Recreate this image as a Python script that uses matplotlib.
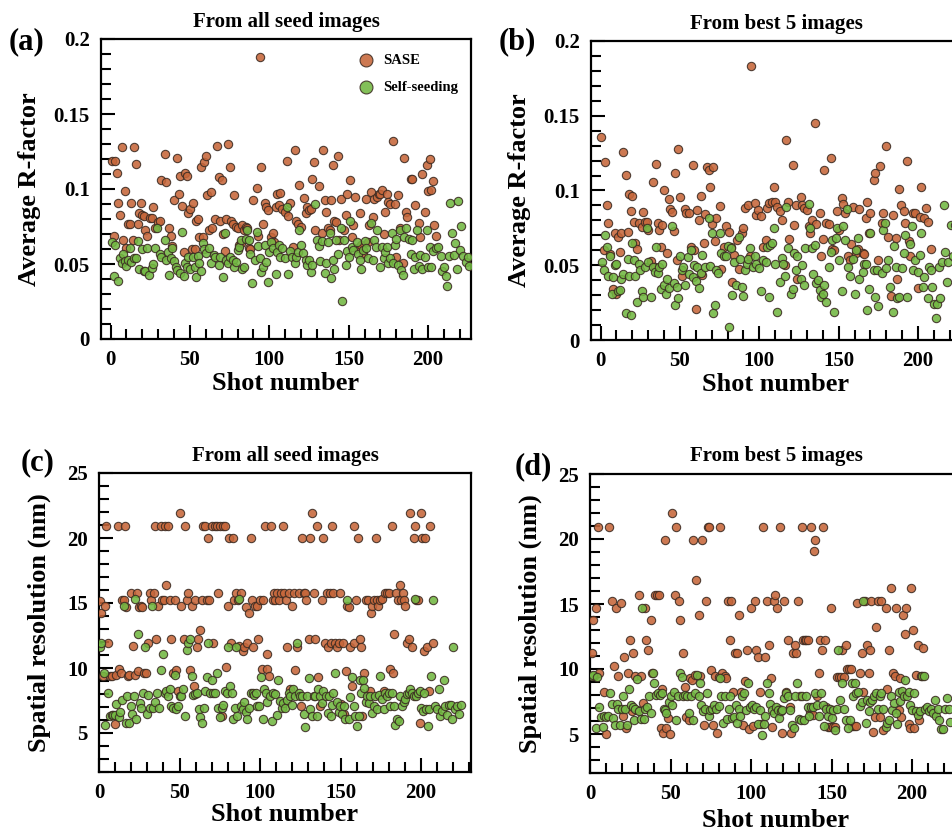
import matplotlib
matplotlib.use("Agg")
import matplotlib.pyplot as plt
from matplotlib.ticker import MultipleLocator, FuncFormatter

plt.rcParams['font.family'] = ['Liberation Serif', 'DejaVu Serif']
plt.rcParams['font.weight'] = 'bold'

# ---- data: (shot number, value) ----
sase_a = [(1,.119),(2,.069),(3,.119),(4,.111),(5,.0905),(6,.083),(7,.128),(8,.066),(9,.099),(10,.061),(11,.077),(12,.077),(13,.0905),(14,.066),(15,.128),(16,.117),(17,.077),(18,.084),(19,.0905),(20,.083),(21,.082),(22,.073),(23,.069),(25,.081),(26,.081),(27,.088),(28,.074),(30,.078),(31,.0785),(32,.106),(34,.1235),(35,.105),(37,.074),(38,.069),(39,.062),(40,.093),(42,.121),(43,.097),(44,.109),(45,.089),(46,.058),(47,.111),(48,.109),(49,.084),(50,.087),(51,.060),(52,.091),(53,.060),(54,.079),(55,.080),(56,.068),(57,.115),(58,.068),(59,.118),(60,.122),(61,.096),(62,.073),(63,.098),(64,.074),(66,.080),(67,.129),(68,.108),(69,.0785),(70,.106),(71,.070),(72,.059),(73,.080),(74,.130),(75,.115),(76,.079),(77,.077),(78,.096),(79,.075),(80,.074),(81,.063),(82,.064),(83,.076),(84,.073),(85,.075),(86,.074),(87,.061),(88,.060),(90,.093),(92,.1005),(93,.0685),(94,.188),(95,.115),(96,.077),(97,.0905),(98,.088),(99,.086),(101,.068),(102,.071),(103,.065),(104,.088),(105,.0965),(106,.0895),(107,.0975),(108,.087),(110,.085),(111,.119),(112,.082),(113,.091),(115,.0615),(116,.126),(117,.079),(118,.077),(119,.103),(120,.075),(122,.094),(123,.084),(124,.088),(125,.086),(126,.087),(127,.107),(128,.118),(129,.073),(131,.102),(133,.071),(134,.126),(135,.093),(136,.0845),(137,.074),(138,.073),(139,.0925),(140,.116),(141,.079),(142,.078),(143,.122),(144,.066),(145,.0935),(147,.073),(148,.083),(149,.0965),(151,.106),(152,.068),(153,.076),(154,.095),(156,.0605),(157,.084),(158,.063),(159,.057),(161,.0935),(162,.065),(163,.076),(164,.098),(165,.0815),(166,.0935),(168,.095),(169,.097),(170,.097),(171,.0995),(172,.070),(173,.085),(174,.097),(175,.0915),(176,.090),(178,.132),(179,.090),(180,.055),(181,.096),(182,.074),(184,.0505),(185,.121),(186,.0845),(187,.0815),(189,.107),(190,.1065),(192,.0895),(194,.0775),(195,.068),(196,.110),(198,.085),(199,.116),(200,.099),(201,.120),(202,.0995),(203,.1055),(204,.076),(205,.069)]

seed_a = [(1,.065),(2,.042),(3,.063),(5,.039),(6,.054),(7,.051),(8,.057),(9,.052),(10,.049),(11,.053),(12,.061),(13,.0515),(15,.054),(16,.054),(17,.0655),(18,.047),(20,.060),(21,.0455),(22,.0455),(23,.0605),(24,.043),(26,.0475),(27,.050),(28,.0605),(29,.074),(31,.057),(32,.055),(34,.066),(35,.053),(36,.058),(37,.0425),(38,.054),(39,.0605),(40,.052),(41,.048),(42,.046),(44,.044),(45,.0715),(46,.042),(47,.0505),(48,.048),(49,.055),(50,.047),(52,.0545),(53,.048),(54,.0415),(55,.0555),(56,.0505),(57,.0455),(58,.064),(59,.060),(60,.0575),(62,.061),(63,.0505),(65,.056),(66,.0545),(68,.0495),(69,.0545),(71,.0415),(72,.0705),(73,.053),(74,.0505),(75,.055),(77,.053),(78,.048),(79,.0515),(80,.0595),(81,.0615),(82,.066),(83,.0465),(84,.048),(85,.0665),(86,.0725),(87,.066),(88,.0565),(89,.0375),(91,.053),(92,.0715),(93,.062),(94,.054),(95,.0445),(96,.048),(97,.063),(98,.0515),(99,.038),(100,.058),(101,.065),(102,.0605),(104,.0435),(105,.058),(106,.063),(107,.055),(108,.0605),(110,.054),(111,.088),(112,.0435),(113,.0585),(114,.055),(116,.0505),(117,.0545),(118,.058),(119,.073),(120,.063),(121,.0575),(123,.053),(124,.0495),(125,.053),(126,.045),(127,.0495),(129,.090),(130,.066),(131,.062),(132,.052),(133,.0655),(135,.044),(136,.0505),(137,.065),(138,.0705),(139,.0405),(140,.053),(141,.047),(142,.066),(143,.057),(145,.074),(146,.0255),(147,.066),(148,.0495),(149,.059),(150,.055),(151,.0785),(152,.0615),(153,.0595),(155,.065),(156,.057),(157,.053),(158,.047),(159,.0595),(160,.0655),(161,.0605),(162,.054),(164,.0775),(165,.053),(166,.066),(167,.0615),(168,.073),(170,.048),(171,.0615),(172,.054),(173,.058),(174,.0615),(175,.0505),(176,.054),(177,.0705),(178,.0505),(179,.063),(180,.0665),(181,.0495),(182,.073),(183,.046),(184,.0425),(185,.068),(186,.074),(188,.0665),(189,.057),(190,.066),(191,.0465),(192,.055),(193,.073),(194,.049),(195,.056),(196,.047),(198,.055),(199,.073),(200,.048),(201,.0615),(202,.048),(203,.059),(205,.0605),(206,.0615),(208,.0555),(209,.0455),(210,.048),(211,.042),(212,.0355),(213,.0555),(214,.0905),(215,.0705),(216,.056),(217,.064),(218,.047),(219,.092),(220,.0595),(221,.0755),(222,.0555),(224,.0515),(225,.055),(226,.049)]

sase_b = [(0,.136),(2,.060),(3,.119),(4,.090),(5,.0785),(6,.0575),(8,.034),(9,.0715),(10,.031),(11,.069),(12,.059),(13,.0715),(14,.126),(16,.1105),(17,.0725),(18,.0975),(19,.086),(20,.0965),(21,.079),(22,.065),(23,.061),(24,.0785),(26,.0755),(27,.0855),(28,.079),(29,.079),(30,.0735),(32,.053),(33,.106),(34,.049),(35,.118),(36,.0785),(37,.0735),(38,.0625),(39,.077),(40,.1005),(42,.058),(43,.094),(44,.0875),(45,.0855),(46,.073),(47,.1115),(48,.0535),(49,.1275),(50,.0955),(51,.043),(53,.0875),(54,.085),(56,.085),(57,.0625),(58,.117),(59,.060),(60,.021),(61,.087),(62,.080),(63,.096),(64,.0435),(65,.065),(66,.084),(67,.116),(68,.114),(69,.1025),(70,.0775),(71,.116),(72,.0665),(73,.0815),(75,.0895),(76,.0475),(78,.0625),(79,.076),(81,.0725),(82,.062),(83,.039),(84,.057),(86,.067),(87,.0475),(89,.0715),(90,.075),(91,.088),(93,.090),(94,.0565),(95,.183),(97,.0915),(98,.0835),(99,.087),(101,.083),(102,.062),(104,.067),(105,.088),(106,.0915),(108,.092),(109,.1025),(110,.092),(111,.089),(113,.086),(114,.080),(116,.050),(117,.134),(118,.092),(119,.0675),(121,.117),(122,.077),(123,.090),(124,.041),(126,.0955),(127,.090),(128,.088),(130,.087),(131,.076),(132,.0715),(133,.080),(135,.145),(136,.0775),(138,.085),(139,.056),(140,.0675),(141,.114),(142,.0785),(144,.0775),(145,.122),(146,.061),(147,.060),(149,.0865),(150,.0735),(152,.095),(153,.091),(154,.085),(156,.056),(157,.0535),(158,.0645),(159,.089),(161,.0585),(162,.061),(163,.0875),(165,.0585),(166,.0575),(167,.0815),(168,.0925),(169,.0715),(170,.085),(172,.107),(173,.1115),(175,.0535),(176,.1165),(177,.078),(178,.085),(180,.130),(181,.069),(183,.0295),(184,.0835),(186,.068),(187,.041),(188,.101),(189,.0905),(191,.0865),(192,.078),(193,.1195),(194,.066),(195,.056),(197,.085),(198,.085),(200,.035),(201,.0825),(202,.1025),(204,.0815),(205,.0885),(206,.079),(208,.061)]

seed_b = [(1,.0525),(2,.047),(3,.070),(4,.062),(5,.043),(6,.056),(7,.0305),(8,.042),(9,.050),(10,.051),(11,.0325),(12,.0335),(13,.0405),(14,.044),(16,.018),(17,.054),(18,.043),(19,.017),(20,.065),(21,.0535),(22,.043),(23,.0255),(24,.051),(25,.047),(26,.0325),(27,.029),(28,.049),(29,.075),(30,.0525),(32,.029),(33,.049),(34,.0455),(35,.062),(36,.045),(37,.049),(38,.034),(39,.051),(40,.037),(41,.031),(42,.041),(43,.035),(45,.076),(46,.038),(47,.0235),(48,.0355),(49,.028),(50,.056),(51,.047),(52,.049),(53,.037),(55,.0555),(56,.044),(57,.0605),(58,.042),(59,.050),(60,.0395),(61,.049),(62,.0345),(63,.045),(64,.057),(66,.049),(68,.0815),(69,.0495),(70,.0715),(71,.018),(72,.0235),(73,.047),(74,.045),(75,.0715),(76,.0585),(78,.056),(79,.056),(80,.063),(81,.009),(82,.0615),(83,.030),(84,.0525),(85,.037),(87,.069),(88,.0545),(89,.0355),(90,.0295),(91,.047),(92,.051),(93,.0545),(94,.0615),(96,.049),(97,.056),(98,.051),(100,.048),(101,.0325),(102,.0535),(104,.0525),(105,.0625),(106,.029),(107,.0635),(108,.065),(109,.075),(110,.051),(111,.019),(113,.039),(114,.055),(115,.051),(116,.0425),(117,.089),(118,.0615),(120,.031),(121,.034),(122,.0585),(123,.047),(124,.056),(126,.041),(127,.050),(128,.037),(129,.0615),(131,.091),(132,.075),(133,.0615),(134,.044),(135,.0635),(136,.038),(137,.040),(138,.0335),(139,.029),(140,.031),(141,.037),(142,.0255),(144,.049),(145,.059),(146,.067),(147,.019),(148,.068),(149,.075),(150,.0535),(152,.0325),(153,.076),(154,.067),(155,.0875),(156,.049),(157,.0425),(159,.054),(160,.031),(161,.060),(162,.0685),(163,.041),(165,.0455),(166,.051),(167,.051),(168,.020),(169,.034),(170,.0715),(172,.047),(173,.029),(174,.047),(175,.0225),(177,.0445),(178,.0735),(179,.0785),(180,.048),(181,.0535),(182,.0355),(184,.0185),(185,.063),(186,.049),(187,.028),(188,.029),(190,.048),(191,.058),(192,.070),(193,.029),(195,.0645),(196,.076),(197,.0465),(198,.0535),(200,.0455),(201,.057),(202,.0715),(203,.0355),(204,.042),(206,.028),(207,.049),(208,.047),(209,.0355),(210,.024),(211,.015),(212,.024),(213,.049),(214,.028),(215,.0525),(216,.090),(217,.059),(218,.039),(219,.0525),(221,.077),(222,.056),(223,.077),(224,.0535),(225,.0685)]

sase_c = [(0.4,15.15),(1.5,14.25),(2.5,9.35),(3.7,14.75),(4.6,20.96),(5.6,11.9),(6.6,9.35),(8.3,9.35),(9.8,5.7),(10.8,9.5),(11.8,20.96),(12.4,9.95),(13.5,9.65),(14.5,15.2),(15.4,15.2),(15.9,20.96),(17,14.7),(17.8,9.35),(18.7,9.45),(20.1,15.75),(21.2,11.7),(22.2,9.5),(23.3,15.75),(24.3,9.8),(24.9,14.7),(26.2,14.75),(27,14.7),(27.9,9.6),(29.1,9.6),(30.3,11.95),(31.5,15.75),(32.6,15.25),(34,15.75),(34.9,20.96),(35.7,12.2),(36.9,14.75),(38.2,20.96),(39,15.25),(40.2,15.25),(41.1,20.96),(41.9,16.35),(42.8,20.96),(44,15.25),(44.8,12.2),(46.1,9.65),(47.1,15.25),(48.1,9.85),(49.2,8.25),(50.2,21.95),(51.2,14.75),(52.7,12.25),(53.7,20.96),(54.4,15.25),(55.4,15.75),(56.4,9.85),(57.5,14.75),(59,8.6),(59.5,15.25),(60.6,11.6),(61.6,12.2),(62.7,12.9),(63.7,15.25),(64.7,20.96),(65.8,20.96),(66.8,15.25),(67.8,20),(68.5,15.25),(70,20.96),(71,11.95),(72,20.96),(73,20.96),(74.1,15.75),(75.1,20.96),(76.1,6.3),(77.2,20.96),(78.2,20.96),(78.8,10.05),(79.9,14.75),(80.9,20),(82,11.95),(83,20),(83.8,15.25),(85.1,15.75),(86.3,15.25),(87.1,11.7),(88,15.75),(89.2,11.3),(90.2,11.6),(91.3,14.7),(92.1,11.95),(93,14.2),(94.2,20),(94.8,15.25),(95.9,11.6),(96.9,14.75),(97.9,14.75),(98.9,12.25),(100,15.25),(101,9.9),(102,15.25),(103.1,20.96),(104.1,11.05),(104.6,9.9),(105.8,9.4),(106.8,20.96),(107.9,15.25),(108.7,15.75),(109.5,15.25),(110.4,15.75),(111.6,15.25),(112.9,15.75),(114.1,20.96),(115.1,15.75),(116.2,15.25),(117,11.6),(117.8,15.75),(118.6,8.35),(119.7,14.75),(121.2,15.75),(122,9.85),(123.2,11.6),(124.2,15.75),(125.3,7.05),(126.1,20),(127,15.75),(128,15.75),(128.6,15.25),(130.3,12.25),(131.1,20),(132.2,21.95),(133.2,15.75),(134.4,12.25),(135.3,20.96),(136.3,9.3),(137.3,7.1),(138.4,15.25),(139.4,20),(140.5,11.95),(141.5,15.75),(142.5,11.6),(143.2,15.75),(144,11.95),(144.8,20.96),(145.6,15.75),(146.5,11.95),(147.7,11.6),(148.8,11.95),(149.8,15.75),(150.2,7.2),(151.5,11.95),(152.3,6.45),(153.1,9.8),(153.9,14.75),(155,14.7),(156,11.6),(157,8.6),(158.1,20.96),(158.5,11.95),(159.8,15.25),(160.8,20),(161.8,12.2),(162.7,11.6),(163.5,6.3),(164.7,9.65),(166,15.25),(167.2,15.25),(168,8.25),(168.9,14.2),(169.7,14.75),(170.5,15.25),(171.8,20),(172.6,15.25),(173.4,14.75),(174.7,15.25),(175.7,15.3),(176.8,8.25),(177.8,15.75),(178.8,15.75),(179.9,15.75),(180.9,9.95),(181.9,20.96),(182.6,9.65),(183.4,12.65),(184.6,15.75),(185.5,15.25),(186.7,16.35),(187.6,15.25),(188.8,15.75),(189.6,15.25),(190.2,14.75),(191.3,11.95),(192.3,12.25),(193.4,21.95),(194.4,11.6),(195.4,20),(196.3,20.96),(197.1,15.25),(198.3,15.25),(199.2,5.8),(200,21.95),(200.8,20),(201.7,11.3),(202.7,20),(203.7,11.6),(204.8,8.25),(205.8,20.96),(207.1,11.95)]

seed_c = [(0.8,11.6),(1.5,11.95),(2.9,9.65),(3.7,5.6),(5.6,8.05),(6.6,6.3),(7.9,6.35),(8.7,6.35),(9.8,6.35),(10.8,7.2),(12.2,6.2),(13.3,6.65),(14.3,7.55),(15.4,14.75),(16.6,5.8),(17.4,7.85),(18.7,5.8),(19.7,7.05),(20.5,6.45),(21.6,7.85),(22.6,15.3),(23.2,6.1),(24.3,12.65),(25.3,7.3),(26.2,6.95),(27.4,8.05),(28.4,11.6),(29.5,6.45),(30.5,7.9),(31.5,6.95),(32.8,14.75),(33.6,6.95),(34.9,7.35),(36.1,8.1),(37.3,6.95),(38.6,9.85),(39.8,11.1),(40.9,8.1),(41.9,8.25),(43,7.85),(44,8.4),(45,7.05),(46.1,6.95),(47.1,9.5),(48.1,6.85),(49.2,7.05),(50.2,7.85),(51.2,7.85),(52.3,8.4),(53.3,6.3),(54.4,11.35),(55.4,11.95),(56.4,12.2),(57.7,9.4),(58.5,7.9),(59.8,8),(61,8.1),(61.8,6.85),(62.7,6.2),(63.9,5.8),(65.1,6.9),(66,8.25),(66.8,9.3),(67.8,11.95),(68.9,8.1),(69.9,9.1),(71,8.1),(72,8.1),(73,9.65),(74.1,6.95),(75.1,6.2),(76.1,6.95),(77.2,7.15),(78.2,8.25),(79.3,8.05),(80.3,11.6),(81.3,8.6),(82.4,8.1),(83.4,6.1),(84.4,6.95),(85.1,11.6),(85.9,6.3),(87.1,15.3),(88,7.1),(89.2,6.85),(90,7.35),(91.3,6.65),(92.1,6.1),(93.4,6.95),(94.2,8.1),(95.4,8.1),(96.3,7.9),(97.5,8.1),(98.3,7.1),(99.6,7.1),(100.4,9.3),(101.7,6.1),(102.5,8.4),(103.7,8.1),(104.6,7.35),(106.2,7.85),(107.3,5.95),(108.3,8.1),(109.5,8),(110.4,6.35),(111.4,9.1),(112.4,7.5),(113.5,6.95),(114.5,7.3),(115.6,6.95),(116.6,7.55),(117.8,8.1),(118.6,7.85),(119.7,7.15),(120.7,8.35),(121.8,7.85),(122.8,11.95),(123.9,8.1),(125,7.85),(126,7.85),(127,6.45),(128,5.45),(129.2,7.85),(130.2,9.2),(131.1,6.85),(132.2,6.3),(133.2,7.85),(134.4,7.85),(135.3,6.3),(136.3,8.35),(137.3,7.85),(138.4,7.3),(139.4,8.25),(140.7,7.85),(141.9,6.55),(142.7,7.85),(144,6.3),(144.8,7.15),(145.6,8.1),(146.7,9.65),(147.7,7.35),(148.8,6.65),(149.8,7.1),(150.8,6.45),(151.9,7.05),(152.9,6.1),(153.9,15.25),(155,6.05),(156,7.8),(157,9.3),(158.1,7.1),(159.1,6.3),(160.2,5.55),(161.2,6.3),(161.8,9.1),(162.7,8.1),(163.9,9.1),(164.7,8.5),(165.6,7.35),(166.4,7.85),(167.4,7.3),(168.5,7.85),(169.5,6.55),(170.5,7.05),(171.6,7.85),(172.6,6.85),(173.7,7.9),(174.7,9.4),(175.7,7.6),(176.8,6.85),(177.8,8.1),(178.8,7.85),(179.9,8.1),(180.9,7.05),(181.9,8.1),(183,7.1),(184,5.6),(185,6.05),(186.1,5.95),(187.1,7.85),(188.2,7.1),(189.2,7.35),(190.2,7.6),(191.3,8),(192.3,8.1),(193.4,8.4),(194.4,8.1),(195.4,7.85),(196.5,15.3),(197.1,7.85),(197.9,8.05),(199.2,8.25),(200,6.95),(201.2,6.7),(202.1,8.1),(203.3,6.85),(204.1,5.55),(205.2,6.85),(206.2,9.4),(207.5,15.25),(208.7,7.1),(209.9,6.85),(211,8.35),(212,6.3),(213.1,6.7),(214.1,9.1),(215.1,7.1),(216.2,6.35),(217.2,7.15),(218.3,7.15),(219.3,6.1),(219.9,11.6),(221.2,6.85),(222.4,7.1),(223.7,6.45),(224.5,7.15)]

sase_d = [(1,11.25),(1.7,13.8),(2.5,9.45),(3.7,14.7),(5,20.9),(5.8,9.7),(8.7,8.25),(9.9,5),(12,20.9),(13.4,15.25),(14.9,10.25),(16.1,14.7),(17.6,9.45),(19,15.1),(20.2,6.4),(21.1,10.95),(22.3,5.5),(23.6,9.7),(24.8,12.2),(25.8,6.8),(26.9,11.25),(28.1,9.45),(29.3,6.85),(30.6,15.7),(31.8,9.45),(33.1,7.35),(33.9,14.7),(34.7,12.2),(36.2,11.5),(37.6,13.75),(38.8,9.7),(40.1,15.7),(41.3,15.7),(43,15.7),(44.4,8.45),(44,5.45),(45.5,5.05),(46.7,19.95),(47.5,5.5),(48.6,6.2),(49.6,5),(50.8,22),(52.5,15.7),(53.7,20.9),(55,15.25),(55.8,13.75),(57.9,11.2),(59.1,8.65),(59.9,6.3),(61.2,6.1),(62,9.3),(63.3,9.15),(64,19.95),(65.3,9.55),(66.1,16.85),(67.4,14.15),(68.6,9.45),(69.8,19.95),(71.1,5.7),(72.3,15.25),(73.1,20.9),(74,20.9),(75.2,9.95),(76.4,5.7),(77.5,9.45),(78.9,5.05),(80.2,9.4),(81,20.9),(82.2,9.7),(83.7,9.45),(84.7,9.3),(85.7,15.25),(86.8,12.2),(87.8,15.25),(88.8,8.25),(89.9,11.25),(91.3,11.25),(92.6,14.15),(93.8,8.25),(95,5.7),(96.3,9.1),(97.5,11.5),(98.8,5.35),(100.2,14.7),(101.2,5.6),(102.3,15.25),(103.3,11.5),(104.4,10.95),(105.4,8.25),(106.4,5.8),(107.4,20.9),(108.7,10.95),(109.9,15.25),(111.2,11.85),(112.2,9.3),(112.9,5.55),(114.2,15.25),(115,15.7),(116.1,14.7),(117.4,6.9),(118.2,20.9),(119.4,5.05),(120.7,15.25),(121.9,8.25),(123.2,12.2),(124,7.1),(125,5.05),(126.1,11.25),(127.4,11.85),(128.1,11.25),(129.2,15.25),(130.2,7.9),(131.4,20.9),(132.2,12.2),(133.3,12.2),(134.3,12.2),(135.5,12.2),(136.4,6.75),(137.4,20.9),(138.4,6.45),(139.5,19.95),(139,19.1),(140.9,7.9),(142.1,9.7),(142.6,12.2),(143.8,11.5),(144.6,20.9),(145.9,12.2),(146.7,7.1),(147.9,5.55),(148.8,5.55),(149.8,14.7),(150.8,5.55),(151.9,5.55),(153.3,9.35),(154.5,9.35),(155.8,9.35),(156.6,11.5),(157.9,9.35),(158.7,11.85),(159.5,10),(160.7,10),(162,10),(162.8,5.6),(164,5.6),(165.3,5.6),(166.1,15.1),(167.4,9.7),(168.6,11.25),(169.8,8.25),(170.7,15.25),(171.9,11.85),(173.1,9.7),(174,11.5),(174.8,15.25),(176,5.15),(176.9,6.3),(177.7,13.25),(178.9,15.25),(179.8,6.3),(181,15.25),(182.2,5.3),(183.5,14.7),(184.3,8.5),(185.5,11.5),(186.8,16.25),(188,9.7),(189.3,9.45),(190.1,14.7),(191.7,6.85),(192.6,9.3),(193.4,6.3),(194.2,14.15),(195.5,12.7),(196.3,14.7),(198,5.8),(198.8,5.45),(199.6,16.25),(200.8,13),(201.4,5.45),(202.5,9.55),(203.5,11.85),(204.5,6.1),(205.6,9.45),(206.6,11.6)]

seed_d = [(1,9.45),(2.1,9.55),(3.7,5.5),(4.5,9.35),(5.8,7.1),(6.6,6.3),(7.9,5.55),(8.7,6.35),(9.9,6.3),(11.4,6.4),(12.4,8.15),(13.4,7.3),(14.5,6.2),(15.5,5.7),(16.5,7.3),(17.6,6.9),(18.6,5.7),(19.6,6.9),(20.7,7.9),(21.9,6.9),(23.1,5.7),(24.4,8.45),(25.2,7.25),(26.4,7.1),(27.3,6.1),(28.1,6.95),(29.3,9.2),(30.6,6.75),(31.4,6.15),(32.6,14.7),(33.5,6.15),(34.3,6.95),(35.5,7.1),(36.8,7.9),(38,6.65),(39.3,9.7),(39.7,8.9),(40.9,8),(42.1,8.15),(43.4,8),(44.6,8.15),(45.9,6.95),(46.7,6.85),(47.5,6.6),(48.8,7.5),(50,7.9),(51.2,7.25),(52.1,8.25),(53.3,6.1),(54.5,7.9),(55.8,9.7),(57,9.4),(57.9,7.9),(59.1,8),(60.3,7.9),(61.6,6.65),(62.8,7.9),(64,6.1),(65.3,8.15),(66.5,9.55),(67.4,7.9),(68.2,8.95),(69.2,7.25),(70.2,6.75),(71.5,6.95),(72.7,8.15),(73.6,6.35),(74.8,6.85),(76,6.95),(77.3,7.25),(78.5,6.95),(79.8,7.15),(80.6,9.3),(81.6,7.9),(82.6,5.85),(83.7,7.9),(85.1,6.15),(86.4,6.9),(87.2,7.9),(88.4,6.2),(89.3,6.3),(90.5,7.25),(91.3,5.85),(92.6,6.9),(93.4,6.35),(94.6,7.95),(95.9,8.15),(97.1,6.85),(98.3,8.9),(99.6,7.1),(100.8,7.25),(102.1,6.9),(102.9,7.05),(104.3,5.8),(105.4,6.85),(106.6,4.95),(107.9,5.8),(108.7,6.35),(109.9,8.9),(111.2,8.15),(112,7.3),(113.2,6.85),(114.3,6.65),(115.3,7.1),(116.5,6.85),(117.4,6.2),(118.6,6.75),(119.4,6.85),(120.7,7.8),(121.9,8.15),(123.2,7.9),(124,6.85),(125.2,5.7),(126.4,5.5),(127.3,7.9),(128.5,8.95),(129.8,6.15),(131,6.1),(131.8,7.95),(133.1,6.1),(133.9,7.9),(135.1,7.1),(136,6.35),(137.2,7.1),(138.4,7.1),(139.7,8.15),(140.9,7.25),(142.1,6.35),(143.4,8.15),(144.6,7.25),(145.5,5.6),(146.3,6.9),(147.5,6.4),(148.8,6.95),(150,6.2),(150.8,6.85),(152.1,5.3),(153.3,6.9),(154.1,11.5),(155.4,7.65),(156.6,8.95),(157.9,6.9),(159.1,6.1),(159.9,5.45),(161.2,6.1),(162.4,8.95),(163.2,7.9),(164.5,8.95),(165.3,8.15),(166.5,8.25),(167.8,7.15),(169,7.5),(169.8,15.25),(171.1,5.85),(171.9,7.65),(173.1,6.75),(174,7.5),(175.2,7.6),(176.4,7.9),(177.7,8.15),(178.9,6.95),(179.8,7.9),(181,8.15),(182.2,6.9),(183.5,5.55),(184.3,5.85),(185.5,6.1),(186.8,7.9),(187.6,6.85),(188.8,7.35),(190.1,6.6),(190.9,5.8),(191.7,8.25),(192.6,7.55),(193.8,8.3),(195,7.9),(195.9,9.15),(197.1,7.9),(198,8.25),(198.8,7.25),(200,6.85),(201.2,8.15),(202.5,6.75),(203.7,6.45),(205,6.75),(206.2,9.45),(207.4,9.45),(208.3,6.95),(209.5,7.1),(210.7,6.75),(212,6.95),(213.2,6.65),(214,7.65),(214.9,6.35),(216.1,6.95),(216.9,6.1),(218.2,5.35),(219.4,5.35),(220.7,6.95),(221.9,7.75),(222.7,6.95),(223.6,5.9)]

titles = ['From all seed images', 'From best 5 images', 'From all seed images', 'From best 5 images']
panel_tags = ['(a)', '(b)', '(c)', '(d)']
series_names = ['SASE', 'Self-seeding']

brown = '#C6663A'
green = '#72B842'
edge = '#3b2b22'

W, H = 952, 833
fig = plt.figure(figsize=(W / 100, H / 100), dpi=100)

def px_axes(left, top, width, height):
    return fig.add_axes([left / W, 1 - (top + height) / H, width / W, height / H])

ax_a = px_axes(101, 39, 370, 300)
ax_b = px_axes(591, 41, 370, 299)
ax_c = px_axes(99, 473, 372, 299)
ax_d = px_axes(590, 474, 372, 299)
axes = [ax_a, ax_b, ax_c, ax_d]
sase = [sase_a, sase_b, sase_c, sase_d]
seed = [seed_a, seed_b, seed_c, seed_d]

fmt = FuncFormatter(lambda v, p: '{:g}'.format(round(v, 3)))

for i, ax in enumerate(axes):
    sx, sy = zip(*sase[i])
    gx, gy = zip(*seed[i])
    ax.scatter(sx, sy, s=36, c=brown, edgecolors=edge, linewidths=0.8,
               alpha=0.88, zorder=3, label=series_names[0])
    ax.scatter(gx, gy, s=36, c=green, edgecolors=edge, linewidths=0.8,
               alpha=0.88, zorder=3, label=series_names[1])

    if i < 2:
        ax.set_xlim(-6, 227)
        ax.set_ylim(0, 0.2)
        ax.yaxis.set_major_locator(MultipleLocator(0.05))
        ax.yaxis.set_minor_locator(MultipleLocator(0.01))
        ax.set_ylabel('Average R-factor', fontsize=19, fontweight='bold')
        ax.yaxis.set_label_coords(-0.163, 0.5)
        ax.xaxis.set_label_coords(0.5, -0.11)
    else:
        ax.set_xlim(0, 231)
        ax.set_ylim(2, 25)
        ax.yaxis.set_major_locator(MultipleLocator(5))
        ax.yaxis.set_minor_locator(MultipleLocator(1))
        ax.set_ylabel('Spatial resolution (nm)', fontsize=19, fontweight='bold')
        ax.yaxis.set_label_coords(-0.128, 0.5)
        ax.xaxis.set_label_coords(0.5, -0.105 if i == 2 else -0.12)
    ax.yaxis.set_major_formatter(fmt)
    ax.xaxis.set_major_locator(MultipleLocator(50))
    ax.xaxis.set_minor_locator(MultipleLocator(10))
    ax.set_xlabel('Shot number', fontsize=19, fontweight='bold')
    ax.tick_params(which='both', direction='in', top=False, right=False,
                   width=1.5, labelsize=15, pad=8)
    ax.tick_params(which='major', length=10)
    ax.tick_params(which='minor', length=7)
    for lab in ax.get_xticklabels() + ax.get_yticklabels():
        lab.set_fontweight('bold')
    for sp in ax.spines.values():
        sp.set_linewidth(1.6)
    ax.set_title(titles[i], fontsize=15, fontweight='bold', pad=9)

ax_a.legend(loc='upper left', bbox_to_anchor=(0.65, 0.985), frameon=False,
            markerscale=1.55, handletextpad=0.15, labelspacing=0.95,
            borderpad=0.2, prop={'size': 10.5, 'weight': 'bold'})

tag_pos = [(26, 42), (517, 42), (38, 463), (533, 467)]
for tag, (tx, ty) in zip(panel_tags, tag_pos):
    fig.text(tx / W, 1 - ty / H, tag, fontsize=22, fontweight='bold',
             ha='center', va='center')

fig.savefig('out.png', dpi=100)
